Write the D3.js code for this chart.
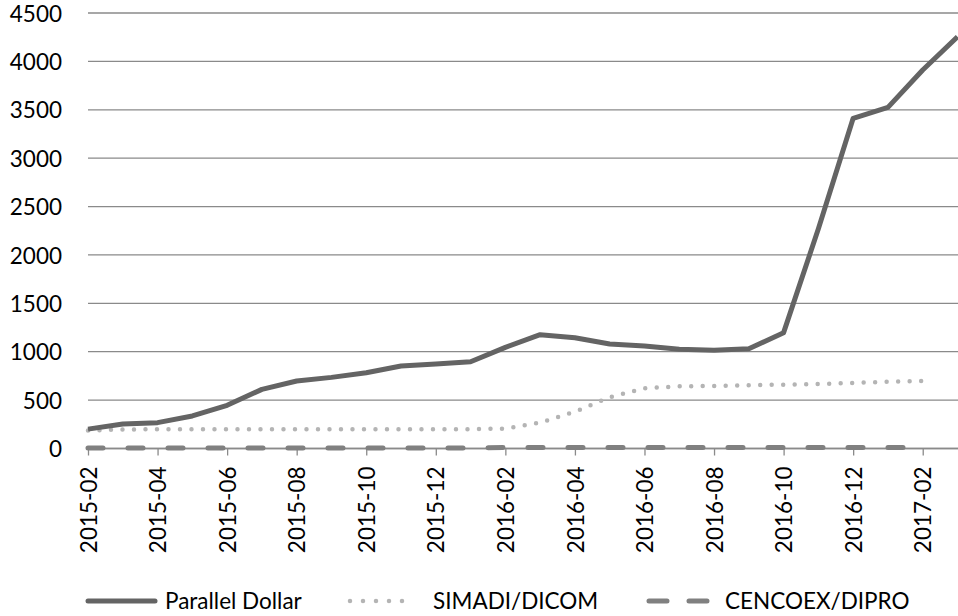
<!DOCTYPE html>
<html>
<head>
<meta charset="utf-8">
<script src="https://cdn.jsdelivr.net/npm/d3@7"></script>
<style>
  html, body { margin: 0; padding: 0; background: #fff; }
  svg { display: block; }
  text { font-family: Lato, "Open Sans", sans-serif; fill: #000; }
</style>
</head>
<body>
<svg id="chart" width="958" height="616"></svg>
<script>
const months = ["2015-02","2015-03","2015-04","2015-05","2015-06","2015-07","2015-08","2015-09","2015-10","2015-11","2015-12","2016-01",
                "2016-02","2016-03","2016-04","2016-05","2016-06","2016-07","2016-08","2016-09","2016-10","2016-11","2016-12","2017-01",
                "2017-02","2017-03"];
const parallelDollar = [200, 253, 267, 336, 446, 611, 697, 735, 783, 852, 873, 897,
                        1045, 1176, 1145, 1080, 1059, 1025, 1015, 1031, 1197, 2270, 3412, 3525,
                        3911, 4255];
const simadiDicom = [185, 197, 198, 198, 198, 198, 198, 198, 198, 198, 199, 200,
                     205, 267, 380, 529, 623, 642, 646, 653, 660, 666, 677, 690,
                     697, null];
const cencoexDipro = [6.3, 6.3, 6.3, 6.3, 6.3, 6.3, 6.3, 6.3, 6.3, 6.3, 6.3, 6.3,
                      10, 10, 10, 10, 10, 10, 10, 10, 10, 10, 10, 10,
                      10, null];
const yTicks = [0, 500, 1000, 1500, 2000, 2500, 3000, 3500, 4000, 4500];
const xTickLabels = months.filter((m, i) => i % 2 === 0);
const seriesNames = ["Parallel Dollar", "SIMADI/DICOM", "CENCOEX/DIPRO"];

const svg = d3.select("#chart");
const mLeft = 88, mRight = 957.5, mTop = 13, mBottom = 448.5;

const x = d3.scalePoint().domain(months).range([mLeft, mRight]);
const y = d3.scaleLinear().domain([0, 4500]).range([mBottom, mTop]);

// gridlines
svg.append("g")
  .selectAll("line")
  .data(yTicks)
  .join("line")
  .attr("x1", mLeft).attr("x2", 958)
  .attr("y1", d => y(d)).attr("y2", d => y(d))
  .attr("stroke", "#8a8a8a")
  .attr("stroke-width", 1.3);

// y labels
const yAxis = d3.axisLeft(y).tickValues(yTicks).tickSize(0).tickPadding(0).tickFormat(d3.format("d"));
const gy = svg.append("g").attr("transform", `translate(62,0)`).call(yAxis);
gy.select(".domain").remove();
gy.selectAll("text").style("font-size", "22.5px").style("font-family", "Lato").attr("fill", "#000").attr("dy", "0.36em");

// x axis
const xAxis = d3.axisBottom(x).tickValues(xTickLabels).tickSize(7).tickPadding(0);
const gx = svg.append("g").attr("transform", `translate(0,${mBottom})`).call(xAxis);
gx.select(".domain").attr("d", `M${mLeft},0H958`).attr("stroke", "#8a8a8a").attr("stroke-width", 1.3);
gx.selectAll(".tick line").attr("stroke", "#8a8a8a").attr("stroke-width", 1.3);
gx.selectAll(".tick text")
  .style("font-size", "22.5px")
  .style("font-family", "Lato")
  .attr("fill", "#000")
  .attr("transform", "rotate(-90)")
  .attr("text-anchor", "end")
  .attr("x", -18)
  .attr("y", 0)
  .attr("dy", "0.36em");

// lines
const line = d3.line()
  .defined(d => d.v != null)
  .x(d => x(d.m))
  .y(d => y(d.v));
const toPts = arr => months.map((m, i) => ({ m, v: arr[i] }));

svg.append("path")
  .datum(toPts(cencoexDipro))
  .attr("d", line)
  .attr("fill", "none")
  .attr("stroke", "#808080")
  .attr("stroke-width", 5)
  .attr("stroke-linecap", "round")
  .attr("stroke-dasharray", "15,25");

svg.append("path")
  .datum(toPts(simadiDicom))
  .attr("d", line)
  .attr("fill", "none")
  .attr("stroke", "#b4b4b4")
  .attr("stroke-width", 4.5)
  .attr("stroke-linecap", "round")
  .attr("stroke-dasharray", "0,11.5");

svg.append("path")
  .datum(toPts(parallelDollar))
  .attr("d", line)
  .attr("fill", "none")
  .attr("stroke", "#646464")
  .attr("stroke-width", 5)
  .attr("stroke-linejoin", "round");

// legend
const ly = 601;
const lg = svg.append("g");
lg.append("line").attr("x1", 88).attr("x2", 155).attr("y1", ly).attr("y2", ly)
  .attr("stroke", "#646464").attr("stroke-width", 5).attr("stroke-linecap", "round");
lg.append("text").attr("x", 165).attr("y", ly).attr("dy", "0.36em").style("font-size", "22.5px").text(seriesNames[0]);

lg.append("line").attr("x1", 350).attr("x2", 415).attr("y1", ly).attr("y2", ly)
  .attr("stroke", "#b4b4b4").attr("stroke-width", 4.5).attr("stroke-linecap", "round")
  .attr("stroke-dasharray", "0,13");
lg.append("text").attr("x", 433).attr("y", ly).attr("dy", "0.36em").style("font-size", "22.5px").text(seriesNames[1]);

lg.append("line").attr("x1", 649).attr("x2", 708).attr("y1", ly).attr("y2", ly)
  .attr("stroke", "#808080").attr("stroke-width", 5).attr("stroke-linecap", "round")
  .attr("stroke-dasharray", "18,22");
lg.append("text").attr("x", 725).attr("y", ly).attr("dy", "0.36em").style("font-size", "22.5px").text(seriesNames[2]);
</script>
</body>
</html>
